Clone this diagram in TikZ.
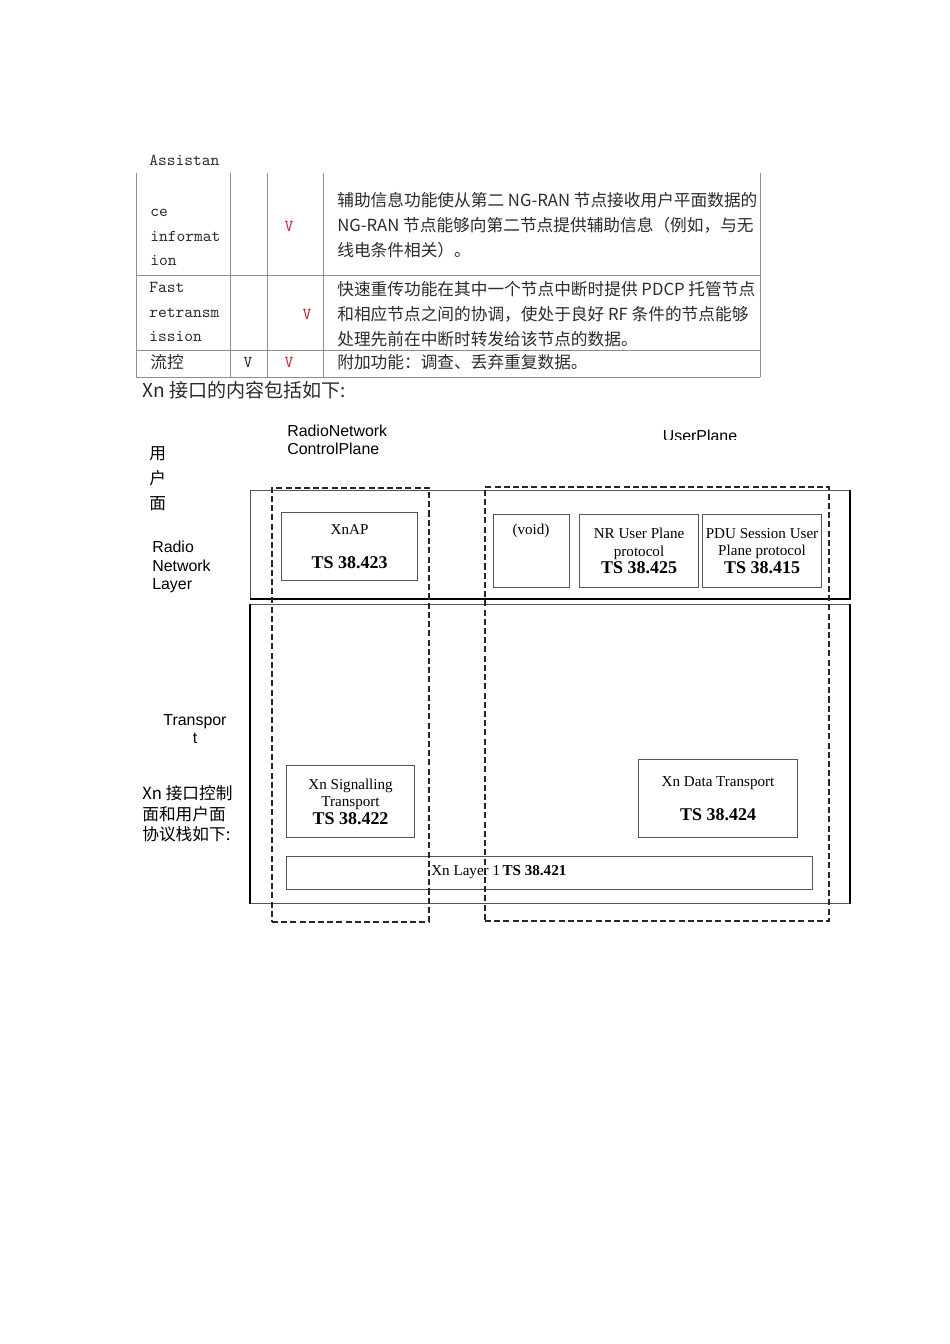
\documentclass[tikz,border=0pt]{standalone}
\usepackage{fontspec}
\setmainfont{Liberation Serif}
\setsansfont{Liberation Sans}
\newfontfamily\cjk{Noto Sans CJK SC}
\newcommand\specfont{\bfseries\fontsize{11.3}{12}\selectfont}
\definecolor{tabrule}{HTML}{8E8E8E}
\definecolor{tabtext}{HTML}{2B2B2B}
\definecolor{vred}{HTML}{C0282D}
\definecolor{boxline}{HTML}{555555}

\begin{document}
\begin{tikzpicture}[x=0.2211mm,y=-0.2211mm,line join=miter,every node/.style={inner sep=0pt},
  cellcn/.style={anchor=west,align=left,text=tabtext,font=\cjk\fontsize{10.5}{15.7}\selectfont},
  cellen/.style={anchor=west,align=left,text=tabtext,font=\ttfamily\fontsize{10.5}{15.4}\selectfont},
  tickmark/.style={font=\ttfamily\fontsize{10.5}{12}\selectfont},
  sidelbl/.style={anchor=west,align=left,font=\sffamily\fontsize{10}{11.6}\selectfont},
  layerbox/.style={draw=boxline,line width=0.6pt,anchor=north west},
  planebox/.style={draw=black!85,line width=1.15pt,anchor=north west,dash pattern=on 3.8pt off 2pt},
  protobox/.style={draw=boxline,line width=0.7pt,anchor=north west,align=center,font=\fontsize{9.5}{11}\selectfont},
  heavyedge/.style={line width=1.8pt}]
  \def\px{0.2211mm}
  \useasboundingbox (0,0) rectangle (950,1344);
  % table
  \foreach \cx in {136,230,267,323,760} {
    \draw[tabrule,line width=0.6pt] (\cx,173) -- (\cx,377);
  }
  \foreach \ry in {275,350,377} {
    \draw[tabrule,line width=0.6pt] (136,\ry) -- (760,\ry);
  }
  \node[cellen] (assist) at (149,160) {Assistan};
  \node[cellen] (assistb) at (150,237.5) {ce\\informat\\ion};
  \node[cellen] (fastre) at (149,312) {Fast\\retransm\\ission};
  \node[cellcn] (flow) at (150,362) {流控};
  \node[tickmark,text=vred] (tka) at (289,226) {V};
  \node[tickmark,text=vred] (tkb) at (307,314) {V};
  \node[tickmark,text=tabtext] (tkc) at (248,362) {V};
  \node[tickmark,text=vred] (tkd) at (289,362) {V};
  \node[cellcn] (desca) at (337,225) {辅助信息功能使从第二 NG-RAN 节点接收用户平面数据的\\NG-RAN 节点能够向第二节点提供辅助信息（例如，与无\\线电条件相关）。};
  \node[cellcn] (descb) at (337,314) {快速重传功能在其中一个节点中断时提供 PDCP 托管节点\\和相应节点之间的协调，使处于良好 RF 条件的节点能够\\处理先前在中断时转发给该节点的数据。};
  \node[cellcn] (descc) at (337,362) {附加功能：调查、丢弃重复数据。};
  \node[anchor=west,text=tabtext,font=\cjk\fontsize{12}{14}\selectfont] (xnintro) at (142,390) {Xn 接口的内容包括如下:};
  % side labels
  \node[sidelbl] (rncp) at (287,440) {RadioNetwork\\ControlPlane};
  \begin{scope}
    \clip (600,420) rectangle (800,439);
    \node[anchor=base,font=\sffamily\fontsize{10}{12}\selectfont] (upl) at (700,441) {UserPlane};
  \end{scope}
  \node[cellcn,text=black] (yhm) at (149,479) {用\\户\\面};
  \node[sidelbl] (rnlt) at (152,567) {Radio\\Network\\Layer};
  \node[align=center,font=\sffamily\fontsize{10}{11.6}\selectfont] (trpt) at (195,729) {Transpor\\t};
  \node[anchor=west,align=left,font=\cjk\fontsize{10.5}{12.9}\selectfont] (xnstack) at (142,814) {Xn 接口控制\\面和用户面\\协议栈如下:};
  % layers
  \node[layerbox,minimum width={599*\px},minimum height={108*\px}] (rnl) at (250,490) {};
  \node[layerbox,minimum width={599*\px},minimum height={299*\px}] (trl) at (250,604) {};
  \draw[heavyedge] (rnl.north east) -- (rnl.south east) -- (rnl.south west);
  \draw[heavyedge] (trl.north west) -- (trl.south west);
  \draw[heavyedge] (trl.north east) -- (trl.south east);
  % protocol boxes
  \node[protobox,minimum width={136*\px},minimum height={68*\px}] (xnap) at (281,512) {XnAP\\[10.5pt]{\specfont TS 38.423}};
  \node[protobox,minimum width={76*\px},minimum height={73*\px}] (voidbox) at (493,514) {};
  \node[font=\fontsize{9.5}{11}\selectfont] (voidtxt) at (531,531) {(void)};
  \node[protobox,minimum width={119*\px},minimum height={73*\px}] (nrup) at (579,514) {NR User Plane\\protocol\\{\specfont TS 38.425}};
  \node[protobox,minimum width={119*\px},minimum height={73*\px}] (pdup) at (702,514) {PDU Session User\\Plane protocol\\{\specfont TS 38.415}};
  \node[protobox,minimum width={128*\px},minimum height={72*\px}] (xnsig) at (286,765) {Xn Signalling\\Transport\\{\specfont TS 38.422}};
  \node[protobox,minimum width={159*\px},minimum height={78*\px}] (xndata) at (638,759) {Xn Data Transport\\[10.5pt]{\specfont TS 38.424}};
  \node[protobox,minimum width={526*\px},minimum height={33*\px}] (xnl1) at (286,856) {};
  \node[anchor=west,font=\fontsize{9.5}{11}\selectfont] (xnl1txt) at (431,872) {Xn Layer 1\,\textbf{TS 38.421}};
  % planes
  \node[planebox,minimum width={157*\px},minimum height={434*\px}] (cplane) at (271,487) {};
  \node[planebox,minimum width={344*\px},minimum height={434*\px}] (uplane) at (484,486) {};
\end{tikzpicture}
\end{document}
